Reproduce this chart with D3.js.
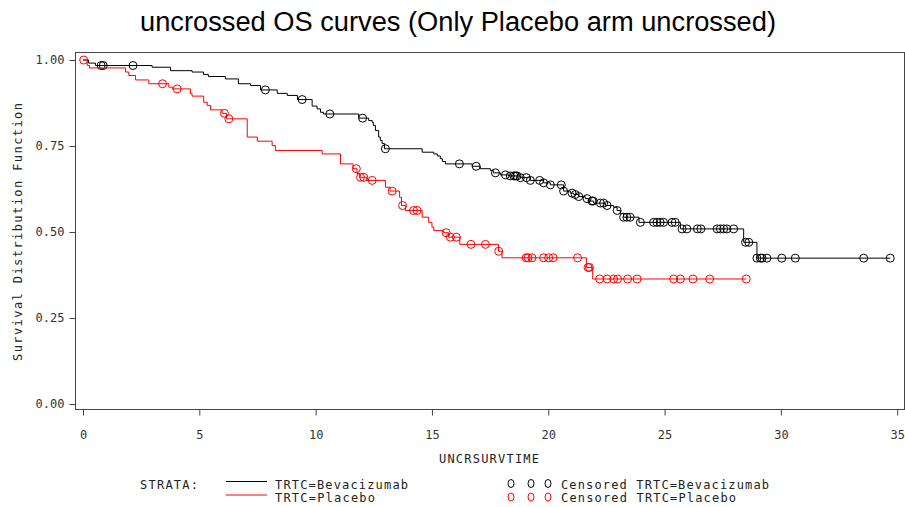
<!DOCTYPE html>
<html><head><meta charset="utf-8">
<script src="https://cdn.jsdelivr.net/npm/d3@7"></script>
<style>
html,body{margin:0;padding:0;background:#fff;}
svg{display:block;}
</style></head>
<body>
<svg id="chart" width="905" height="507"></svg>
<script>
// ---- data ----
const xTicks = [0, 5, 10, 15, 20, 25, 30, 35];
const yTicks = [0, 0.25, 0.5, 0.75, 1.0];

// Bevacizumab KM step curve (time, survival)
const bevTime = [0, 0.24, 0.54, 2.97, 3.76, 4.69, 5.18, 5.39, 6.12, 6.68, 7.20, 7.63, 8.35, 8.78, 9.22, 9.85, 10.06, 10.21, 10.34, 11.85, 12.28, 12.43, 12.48, 12.57, 12.71, 12.78, 12.86, 12.96, 14.58, 15.08, 15.23, 15.36, 15.45, 15.58, 16.73, 17.08, 17.51, 17.64, 17.94, 18.30, 18.80, 19.23, 19.80, 20.09, 20.66, 20.95, 21.09, 21.31, 21.59, 21.74, 21.95, 22.45, 22.81, 22.96, 23.10, 23.24, 23.90, 25.68, 28.40, 28.97, 34.70];
const bevSurv = [1, 0.991, 0.984, 0.979, 0.969, 0.965, 0.958, 0.952, 0.945, 0.931, 0.926, 0.913, 0.903, 0.897, 0.885, 0.866, 0.858, 0.848, 0.843, 0.831, 0.824, 0.819, 0.810, 0.795, 0.776, 0.766, 0.757, 0.742, 0.732, 0.727, 0.721, 0.713, 0.705, 0.698, 0.691, 0.684, 0.679, 0.672, 0.666, 0.663, 0.658, 0.650, 0.643, 0.637, 0.619, 0.613, 0.609, 0.603, 0.597, 0.590, 0.584, 0.577, 0.572, 0.5625, 0.554, 0.543, 0.528, 0.509, 0.470, 0.424, 0.424];
const bevCensor = [0.78, 0.87, 2.15, 7.84, 9.42, 10.61, 12.02, 13.00, 16.18, 16.90, 17.73, 18.16, 18.37, 18.52, 18.59, 18.66, 18.80, 19.06, 19.23, 19.63, 19.80, 20.09, 20.56, 20.66, 21.02, 21.16, 21.31, 21.67, 21.88, 21.93, 22.24, 22.38, 22.53, 22.96, 23.24, 23.38, 23.52, 23.96, 24.53, 24.67, 24.81, 24.96, 25.32, 25.46, 25.75, 25.96, 26.41, 26.56, 27.26, 27.40, 27.54, 27.68, 27.97, 28.48, 28.62, 28.97, 29.12, 29.19, 29.40, 30.04, 30.62, 33.56, 34.70];

// Placebo KM step curve
const plaTime = [0, 0.18, 0.28, 1.83, 1.97, 2.26, 2.83, 3.69, 3.85, 4.62, 4.69, 5.19, 5.34, 5.48, 5.98, 6.17, 7.06, 7.49, 8.13, 8.27, 10.28, 11.07, 11.61, 11.78, 11.88, 12.20, 13.00, 13.20, 13.61, 13.69, 13.86, 14.58, 14.86, 15.00, 15.08, 15.50, 15.71, 16.20, 17.86, 18.01, 21.64, 21.91, 28.51];
const plaSurv = [1, 0.984, 0.977, 0.965, 0.955, 0.942, 0.931, 0.921, 0.916, 0.902, 0.895, 0.877, 0.868, 0.855, 0.845, 0.829, 0.776, 0.764, 0.751, 0.737, 0.727, 0.698, 0.684, 0.670, 0.659, 0.650, 0.630, 0.619, 0.601, 0.577, 0.5625, 0.543, 0.528, 0.514, 0.504, 0.498, 0.485, 0.464, 0.444, 0.425, 0.397, 0.3634, 0.3634];
const plaCensor = [0.03, 3.42, 4.05, 6.08, 6.27, 11.75, 11.93, 12.07, 12.43, 13.29, 13.74, 14.21, 14.36, 15.61, 15.79, 16.05, 16.68, 17.30, 17.87, 19.05, 19.13, 19.30, 19.80, 20.02, 20.21, 21.26, 21.71, 21.77, 22.21, 22.53, 22.81, 22.98, 23.41, 23.82, 25.39, 25.68, 26.22, 26.94, 28.51];

const seriesNames = ["TRTC=Bevacizumab", "TRTC=Placebo"];
const seriesColors = ["#000000", "#ff0000"];

const titleText = "uncrossed OS curves (Only Placebo arm uncrossed)";
const xLabel = "UNCRSURVTIME";
const yLabel = "Survival Distribution Function";

// ---- layout ----
const svg = d3.select("#chart");
const frame = {left: 75, right: 904, top: 52, bottom: 409};
const x = d3.scaleLinear().domain([0, 35]).range([82.5, 896.7]);
const y = d3.scaleLinear().domain([0, 1]).range([403.5, 59.5]);
const mono = "'DejaVu Sans Mono', 'Liberation Mono', monospace";

// title
svg.append("text").attr("x", 458).attr("y", 31).attr("text-anchor", "middle")
  .attr("font-family", "'Liberation Sans', Arial, sans-serif").attr("font-size", 27)
  .attr("fill", "#000").attr("textLength", 636).attr("lengthAdjust", "spacingAndGlyphs").text(titleText);

// frame
svg.append("rect").attr("x", frame.left + 0.5).attr("y", frame.top + 0.5)
  .attr("width", frame.right - frame.left).attr("height", frame.bottom - frame.top)
  .attr("fill", "none").attr("stroke", "#444").attr("stroke-width", 1);

// x axis
const xAxis = d3.axisBottom(x).tickValues(xTicks).tickSize(6).tickPadding(15).tickFormat(d3.format("d"));
const gx = svg.append("g").attr("transform", `translate(0.5,${frame.bottom + 0.5})`).call(xAxis);
gx.select(".domain").remove();
gx.selectAll("line").attr("stroke", "#444");
gx.selectAll("text").attr("font-family", mono).attr("font-size", 12).attr("fill", "#333");

// y axis
const yAxis = d3.axisLeft(y).tickValues(yTicks).tickSize(6).tickPadding(5).tickFormat(d3.format(".2f"));
const gy = svg.append("g").attr("transform", `translate(${frame.left + 0.5},0.5)`).call(yAxis);
gy.select(".domain").remove();
gy.selectAll("line").attr("stroke", "#444");
gy.selectAll("text").attr("font-family", mono).attr("font-size", 12).attr("fill", "#333");

// axis labels
svg.append("text").attr("x", 489).attr("y", 463).attr("text-anchor", "middle")
  .attr("font-family", mono).attr("font-size", 12).attr("fill", "#222")
  .attr("textLength", 100).attr("lengthAdjust", "spacing").text(xLabel);
svg.append("text").attr("transform", "translate(22,232) rotate(-90)").attr("text-anchor", "middle")
  .attr("font-family", mono).attr("font-size", 12).attr("fill", "#222")
  .attr("textLength", 258).attr("lengthAdjust", "spacing").text(yLabel);

// curves
const line = d3.line().x(d => x(d[0])).y(d => y(d[1])).curve(d3.curveStepAfter);
function stepValue(times, surv, t) {
  const i = d3.bisectRight(times, t) - 1;
  return surv[Math.max(0, i)];
}
const series = [
  {time: bevTime, surv: bevSurv, cens: bevCensor, color: seriesColors[0]},
  {time: plaTime, surv: plaSurv, cens: plaCensor, color: seriesColors[1]}
];
const plot = svg.append("g").attr("transform", "translate(0.5,0.5)");
series.forEach(s => {
  const pts = s.time.map((t, i) => [t, s.surv[i]]);
  plot.append("path").attr("d", line(pts)).attr("fill", "none")
    .attr("stroke", s.color).attr("stroke-width", 1);
  plot.append("g").selectAll("circle").data(s.cens).join("circle")
    .attr("cx", t => x(t)).attr("cy", t => y(stepValue(s.time, s.surv, t)))
    .attr("r", 4).attr("fill", "none").attr("stroke", s.color).attr("stroke-width", 1);
});

// legend
const lg = svg.append("g");
lg.append("text").attr("x", 140).attr("y", 489).attr("font-family", mono).attr("font-size", 12)
  .attr("fill", "#222").attr("textLength", 58).attr("lengthAdjust", "spacing").text("STRATA:");
const lineY = [481, 494.5];
const textY = [489, 502];
const txtLen1 = [133, 100];
const txtLen2 = [208, 175];
seriesNames.forEach((name, i) => {
  lg.append("line").attr("x1", 226).attr("x2", 267).attr("y1", lineY[i] + 0.5).attr("y2", lineY[i] + 0.5)
    .attr("stroke", seriesColors[i]).attr("stroke-width", 1);
  lg.append("text").attr("x", 275).attr("y", textY[i]).attr("font-family", mono).attr("font-size", 12)
    .attr("fill", "#222").attr("textLength", txtLen1[i]).attr("lengthAdjust", "spacing").text(name);
  [511, 531, 548].forEach(cx => {
    lg.append("ellipse").attr("cx", cx).attr("cy", lineY[i] + 2.5).attr("rx", 3).attr("ry", 4)
      .attr("fill", "none").attr("stroke", seriesColors[i]).attr("stroke-width", 1);
  });
  lg.append("text").attr("x", 561).attr("y", textY[i]).attr("font-family", mono).attr("font-size", 12)
    .attr("fill", "#222").attr("textLength", txtLen2[i]).attr("lengthAdjust", "spacing").text("Censored " + name);
});
</script>
</body></html>
